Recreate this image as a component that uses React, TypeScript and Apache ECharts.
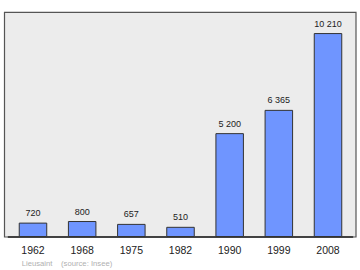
import React, { useEffect, useRef } from "react";
import * as echarts from "echarts";

const years = ["1962", "1968", "1975", "1982", "1990", "1999", "2008"];
const population = [720, 800, 657, 510, 5200, 6365, 10210];
const townName = "Lieusaint";
const sourceText = "(source: Insee)";

const FONT = "'Liberation Sans', Arial, sans-serif";

function fmt(v: number): string {
  return String(v).replace(/\B(?=(\d{3})+(?!\d))/g, " ");
}

export default function App() {
  const ref = useRef<HTMLDivElement>(null);
  useEffect(() => {
    if (!ref.current) return;
    const chart = echarts.init(ref.current, undefined, { renderer: "svg" });
    chart.setOption({
      animation: false,
      textStyle: { fontFamily: FONT },
      grid: { left: 8.4, right: 7.4, top: 12.3, bottom: 33 },
      graphic: [
        {
          type: "rect",
          z: -10,
          silent: true,
          shape: { x: 4.5, y: 12.3, width: 351.5, height: 224.7 },
          style: { fill: "#ececec", stroke: "#555555", lineWidth: 1.2 },
        },
        {
          type: "text",
          x: 21.7,
          y: 263,
          style: {
            text: townName,
            fill: "#b0b0b0",
            fontSize: 7.7,
            fontFamily: FONT,
            verticalAlign: "middle",
          },
        },
        {
          type: "text",
          x: 61,
          y: 263,
          style: {
            text: sourceText,
            fill: "#b0b0b0",
            fontSize: 7.7,
            fontFamily: FONT,
            verticalAlign: "middle",
          },
        },
      ],
      xAxis: {
        type: "category",
        data: years,
        axisLine: { show: true, lineStyle: { color: "#222222", width: 1.5 } },
        axisTick: { show: false },
        axisLabel: { color: "#222222", fontSize: 10.5, margin: 7, fontFamily: FONT },
      },
      yAxis: {
        type: "value",
        min: 0,
        max: 11250,
        show: false,
        splitLine: { show: false },
      },
      series: [
        {
          type: "bar",
          data: population,
          barWidth: 28.5,
          itemStyle: { color: "#6f95ff", borderColor: "#333333", borderWidth: 1 },
          label: {
            show: true,
            position: "top",
            distance: 5,
            color: "#222222",
            fontSize: 9,
            fontFamily: FONT,
            formatter: (p: any) => fmt(p.value),
          },
        },
      ],
    });
    return () => chart.dispose();
  }, []);
  return (
    <div
      ref={ref}
      style={{ position: "absolute", left: 0, top: 0, width: 360, height: 270 }}
    />
  );
}
